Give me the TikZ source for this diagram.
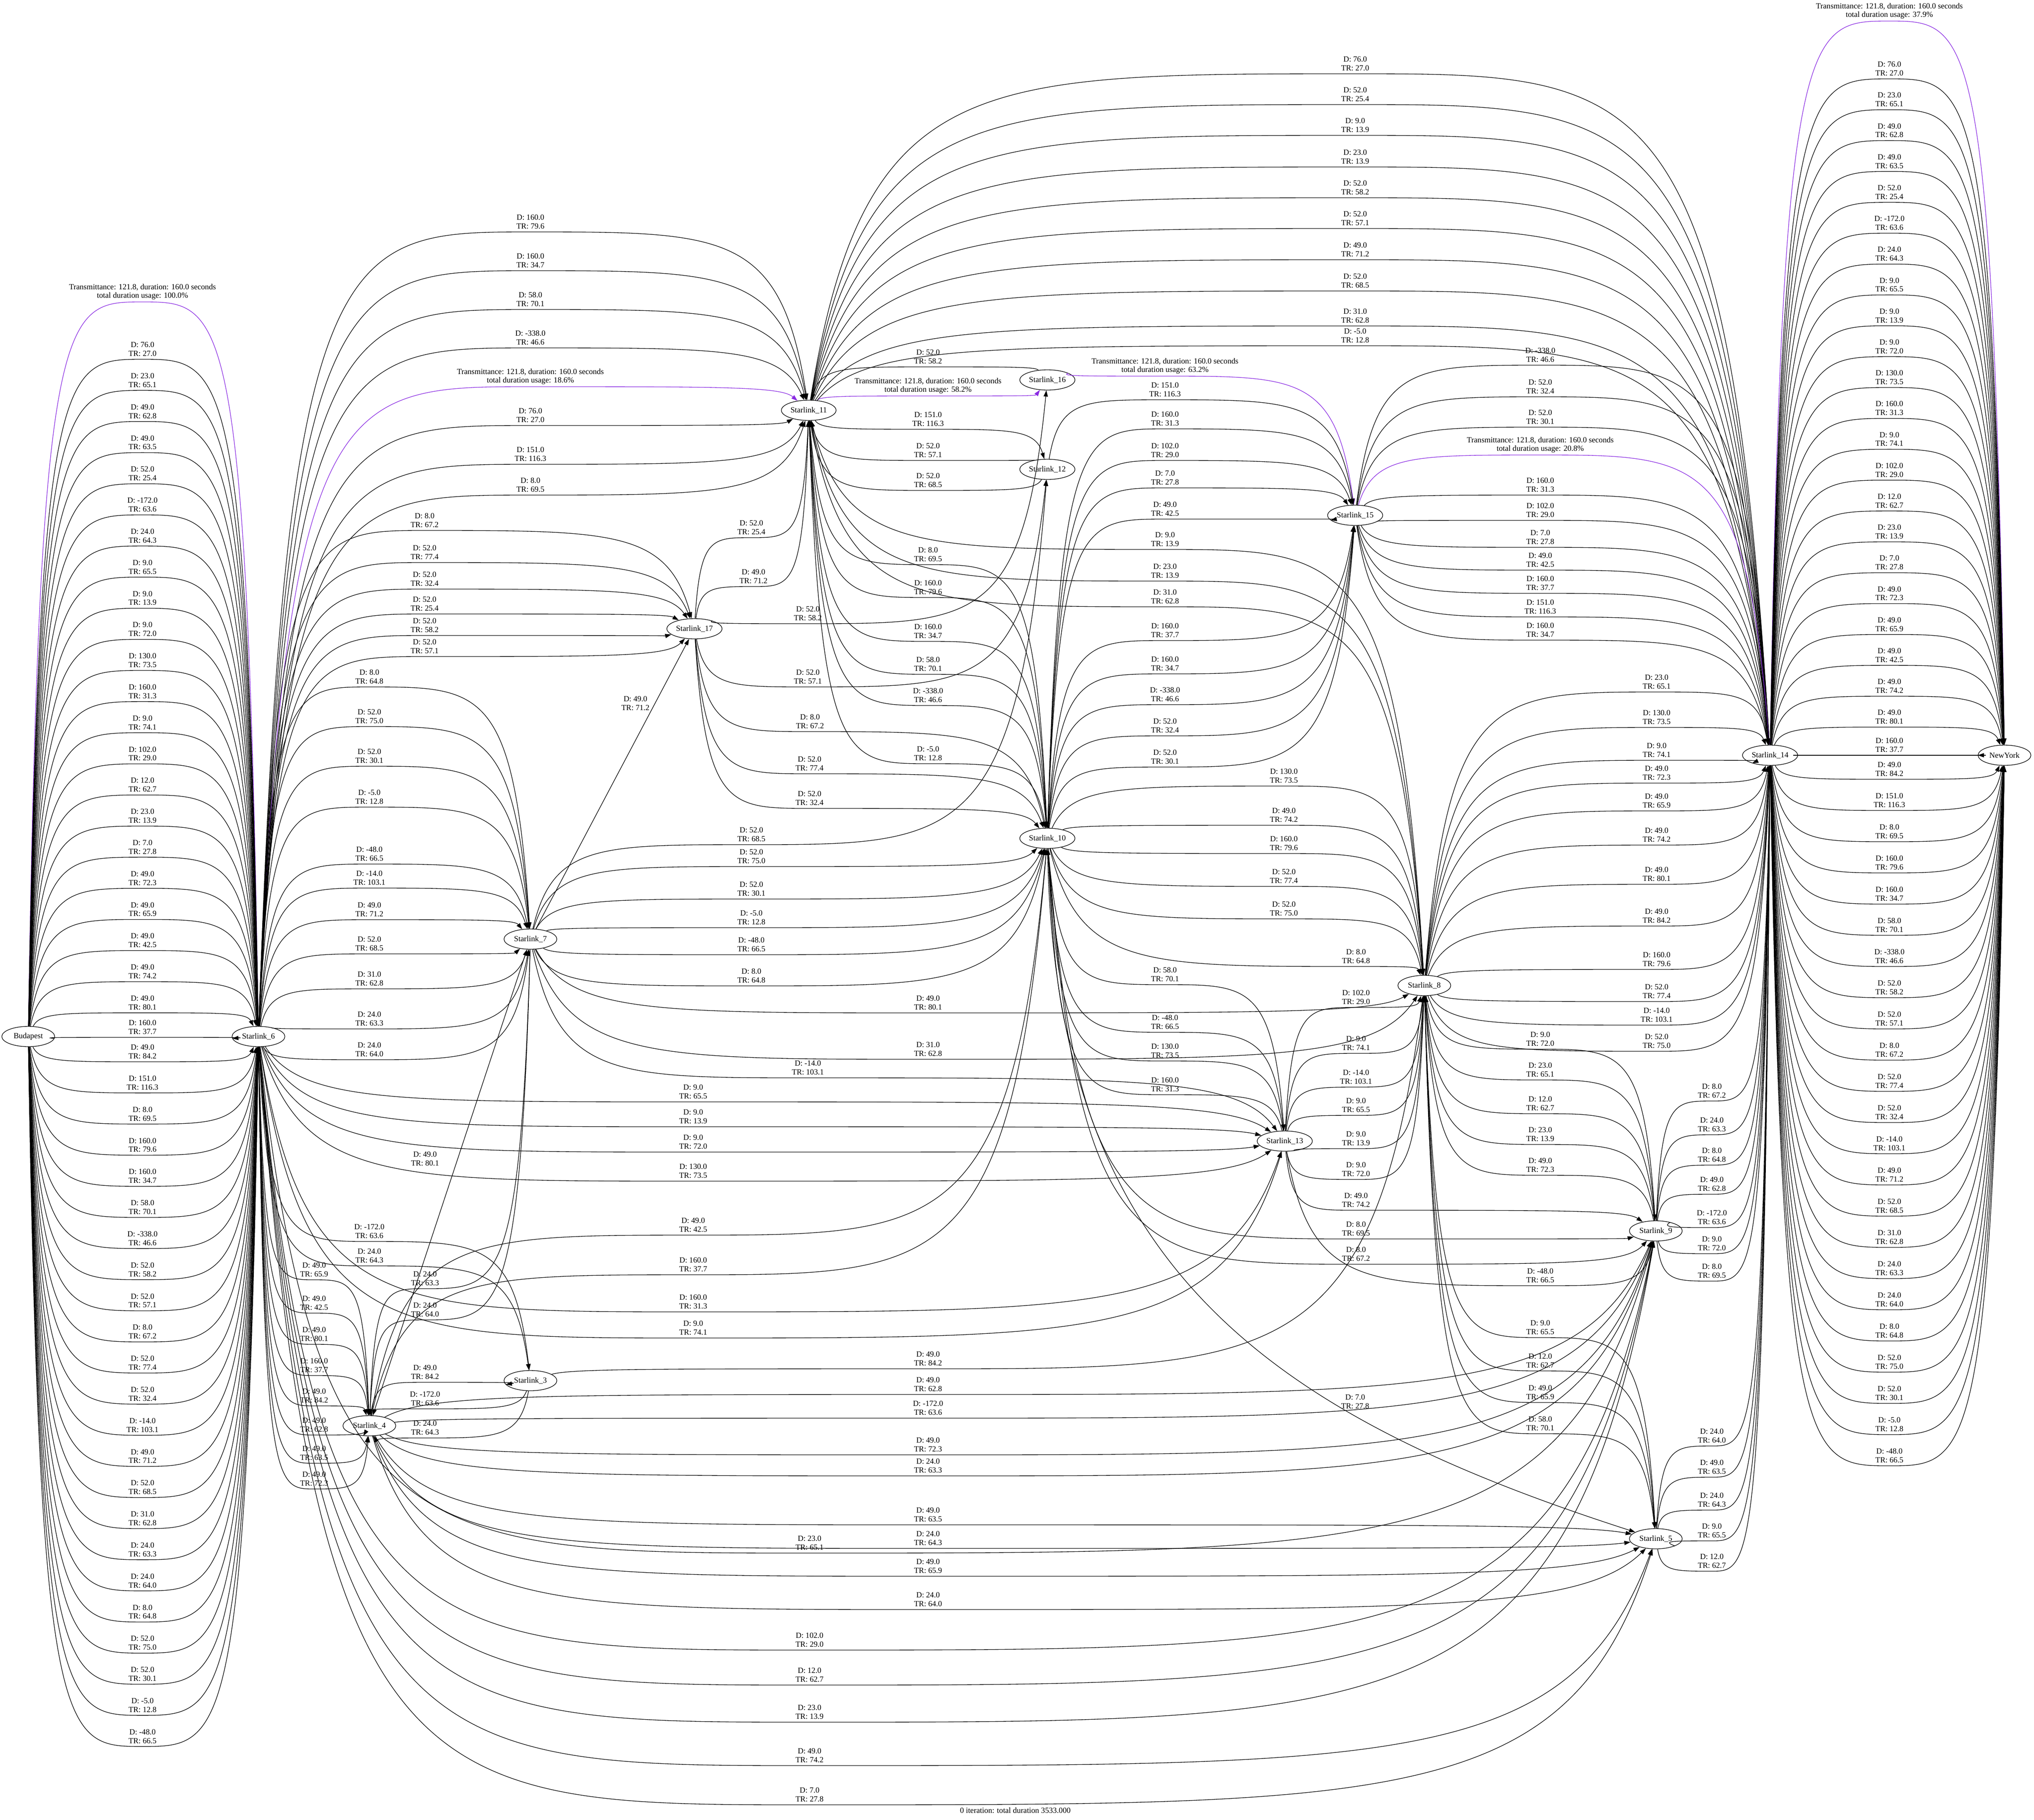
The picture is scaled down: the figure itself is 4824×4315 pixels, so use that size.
\documentclass[tikz,border=0pt]{standalone}
\usepackage{fontspec}
\setmainfont{Liberation Serif}
\usetikzlibrary{shapes.geometric,arrows.meta,calc}

\definecolor{bestviolet}{RGB}{138,43,226}

\tikzset{
  sat/.style={ellipse, draw, line width=1pt, minimum height=36pt, minimum width=94pt,
    inner xsep=2pt, font=\fontsize{14}{15.5}\selectfont},
  lbl/.style={align=center, inner sep=0pt, font=\fontsize{14}{15.5}\selectfont},
  link/.style={line width=1pt, -{Triangle[length=11pt,width=7.5pt]}},
  best/.style={draw=bestviolet, fill=none, -{Triangle[length=11pt,width=7.5pt,fill=bestviolet]}, color=bestviolet}
}

% src, dst, label x, label y, D, TR
\newcommand\satlink[7][]{%
  \draw[link,#1] let \p1=(#2), \p2=(#4,#5), \p3=(#3) in
    (#2) .. controls ({\x1+0.1*(\x2-\x1)},{\y2-18pt}) and ({\x1+0.3*(\x2-\x1)},{\y2-18pt})
    .. (\x2,{\y2-18pt})
    .. controls ({\x3-0.3*(\x3-\x2)},{\y2-18pt}) and ({\x3-0.1*(\x3-\x2)},{\y2-18pt}) .. (#3);
  \node[lbl] at (#4,#5) {D: #6\\TR: #7};}
\newcommand\bestlink[5]{%
  \draw[link,best] let \p1=(#1), \p2=(#3,#4), \p3=(#2) in
    (#1) .. controls ({\x1+0.1*(\x2-\x1)},{\y2-18pt}) and ({\x1+0.3*(\x2-\x1)},{\y2-18pt})
    .. (\x2,{\y2-18pt})
    .. controls ({\x3-0.3*(\x3-\x2)},{\y2-18pt}) and ({\x3-0.1*(\x3-\x2)},{\y2-18pt}) .. (#2);
  \node[lbl] at (#3,#4) {Transmittance: 121.8, duration: 160.0 seconds\\total duration usage: #5\%};}

\newcommand\slotlist{76.0/27.0,23.0/65.1,49.0/62.8,49.0/63.5,52.0/25.4,-172.0/63.6,24.0/64.3,9.0/65.5,9.0/13.9,9.0/72.0,130.0/73.5,160.0/31.3,9.0/74.1,102.0/29.0,12.0/62.7,23.0/13.9,7.0/27.8,49.0/72.3,49.0/65.9,49.0/42.5,49.0/74.2,49.0/80.1,160.0/37.7,49.0/84.2,151.0/116.3,8.0/69.5,160.0/79.6,160.0/34.7,58.0/70.1,-338.0/46.6,52.0/58.2,52.0/57.1,8.0/67.2,52.0/77.4,52.0/32.4,-14.0/103.1,49.0/71.2,52.0/68.5,31.0/62.8,24.0/63.3,24.0/64.0,8.0/64.8,52.0/75.0,52.0/30.1,-5.0/12.8,-48.0/66.5}

\begin{document}
\begin{tikzpicture}[x=0.75pt,y=-0.75pt]
\useasboundingbox (0,0) rectangle (4824,4315);

\node[sat] (bud) at (67,2458) {Budapest};
\node[sat] (s6) at (613,2458) {Starlink\_6};
\node[sat] (s11) at (1918,973) {Starlink\_11};
\node[sat] (s16) at (2484,901) {Starlink\_16};
\node[sat] (s12) at (2484,1113) {Starlink\_12};
\node[sat] (s17) at (1647,1491) {Starlink\_17};
\node[sat] (s15) at (3214,1222) {Starlink\_15};
\node[sat] (s10) at (2484,1988) {Starlink\_10};
\node[sat] (s7) at (1258,2227) {Starlink\_7};
\node[sat] (s8) at (3378,2337) {Starlink\_8};
\node[sat] (s13) at (3047,2706) {Starlink\_13};
\node[sat] (s14) at (4198,1791) {Starlink\_14};
\node[sat] (ny) at (4754,1791) {NewYork};
\node[sat] (s9) at (3927,2919) {Starlink\_9};
\node[sat] (s3) at (1258,3274) {Starlink\_3};
\node[sat] (s4) at (876,3381) {Starlink\_4};
\node[sat] (s5) at (3927,3649) {Starlink\_5};

\bestlink{bud}{s6}{338}{692}{100.0}
\foreach \dv/\tv [count=\i] in \slotlist {
  \pgfmathsetmacro\ly{\i<23 ? 828+73.8*(\i-1) : (\i==23 ? 2436 : 2494+73.8*(\i-24))}
  \satlink{bud}{s6}{338}{\ly}{\dv}{\tv}
}
\bestlink{s14}{ny}{4481}{26}{37.9}
\foreach \dv/\tv [count=\i] in \slotlist {
  \pgfmathsetmacro\ly{\i<23 ? 163+73.2*(\i-1) : (\i==23 ? 1767 : 1824+74*(\i-24))}
  \satlink{s14}{ny}{4481}{\ly}{\dv}{\tv}
}

\satlink{s6}{s11}{1258}{526}{160.0}{79.6}
\satlink{s6}{s11}{1258}{618}{160.0}{34.7}
\satlink{s6}{s11}{1258}{710}{58.0}{70.1}
\satlink{s6}{s11}{1258}{801}{-338.0}{46.6}
\bestlink{s6}{s11}{1258}{893}{18.6}
\satlink{s6}{s11}{1258}{985}{76.0}{27.0}
\satlink{s6}{s11}{1258}{1077}{151.0}{116.3}
\satlink{s6}{s11}{1258}{1150}{8.0}{69.5}
\satlink{s6}{s17}{1007}{1234}{8.0}{67.2}
\satlink{s6}{s17}{1007}{1310}{52.0}{77.4}
\satlink{s6}{s17}{1007}{1373}{52.0}{32.4}
\satlink{s6}{s17}{1007}{1432}{52.0}{25.4}
\satlink{s6}{s17}{1007}{1483}{52.0}{58.2}
\satlink{s6}{s17}{1007}{1533}{52.0}{57.1}
\satlink{s6}{s7}{876}{1605}{8.0}{64.8}
\satlink{s6}{s7}{876}{1699}{52.0}{75.0}
\satlink{s6}{s7}{876}{1793}{52.0}{30.1}
\satlink{s6}{s7}{876}{1890}{-5.0}{12.8}
\satlink{s6}{s7}{876}{2025}{-48.0}{66.5}
\satlink{s6}{s7}{876}{2082}{-14.0}{103.1}
\satlink{s6}{s7}{876}{2157}{49.0}{71.2}
\satlink{s6}{s7}{876}{2238}{52.0}{68.5}
\satlink{s6}{s7}{876}{2321}{31.0}{62.8}
\satlink{s6}{s7}{876}{2416}{24.0}{63.3}
\satlink{s6}{s7}{876}{2489}{24.0}{64.0}
\satlink{s6}{s13}{1644}{2589}{9.0}{65.5}
\satlink{s6}{s13}{1644}{2648}{9.0}{13.9}
\satlink{s6}{s13}{1644}{2708}{9.0}{72.0}
\satlink{s6}{s13}{1644}{2777}{130.0}{73.5}
\satlink{s6}{s13}{1644}{3087}{160.0}{31.3}
\satlink{s6}{s13}{1644}{3149}{9.0}{74.1}
\satlink{s6}{s3}{876}{2920}{-172.0}{63.6}
\satlink{s6}{s3}{876}{2978}{24.0}{64.3}
\satlink{s6}{s4}{745}{3011}{49.0}{65.9}
\satlink{s6}{s4}{745}{3090}{49.0}{42.5}
\satlink{s6}{s4}{745}{3164}{49.0}{80.1}
\satlink{s6}{s4}{745}{3238}{160.0}{37.7}
\satlink{s6}{s4}{745}{3310}{49.0}{84.2}
\satlink{s6}{s4}{745}{3379}{49.0}{62.8}
\satlink{s6}{s4}{745}{3446}{49.0}{63.5}
\satlink{s6}{s4}{745}{3507}{49.0}{72.3}
\satlink{s6}{s9}{1920}{3659}{23.0}{65.1}
\satlink{s6}{s9}{1920}{3889}{102.0}{29.0}
\satlink{s6}{s9}{1920}{3972}{12.0}{62.7}
\satlink{s6}{s9}{1920}{4060}{23.0}{13.9}
\satlink{s6}{s5}{1920}{4163}{49.0}{74.2}
\satlink{s6}{s5}{1920}{4256}{7.0}{27.8}

\draw[link] (s7) -- (s17);
\node[lbl] at (1507,1668) {D: 49.0\\TR: 71.2};
\draw[link] (s4) -- (s7);
\node[lbl] at (1008,2748) {D: 49.0\\TR: 80.1};
\satlink{s17}{s11}{1782}{1251}{52.0}{25.4}
\satlink{s17}{s11}{1787}{1367}{49.0}{71.2}
\satlink{s17}{s16}{1916}{1455}{52.0}{58.2}
\satlink{s17}{s12}{1916}{1605}{52.0}{57.1}
\satlink{s17}{s10}{1921}{1711}{8.0}{67.2}
\satlink{s17}{s10}{1920}{1811}{52.0}{77.4}
\satlink{s17}{s10}{1920}{1893}{52.0}{32.4}
\satlink{s7}{s12}{1782}{1979}{52.0}{68.5}
\satlink{s7}{s10}{1782}{2031}{52.0}{75.0}
\satlink{s7}{s10}{1782}{2108}{52.0}{30.1}
\satlink{s7}{s10}{1782}{2176}{-5.0}{12.8}
\satlink{s7}{s10}{1782}{2240}{-48.0}{66.5}
\satlink{s7}{s10}{1782}{2314}{8.0}{64.8}
\satlink{s7}{s13}{1916}{2532}{-14.0}{103.1}
\satlink{s7}{s8}{2201}{2378}{49.0}{80.1}
\satlink{s7}{s8}{2201}{2488}{31.0}{62.8}
\satlink{s4}{s10}{1644}{2905}{49.0}{42.5}
\satlink{s4}{s10}{1644}{2999}{160.0}{37.7}
\satlink{s7}{s4}{1008}{3032}{24.0}{63.3}
\satlink{s7}{s4}{1008}{3106}{24.0}{64.0}
\satlink{s4}{s3}{1008}{3254}{49.0}{84.2}
\satlink{s3}{s4}{1008}{3317}{-172.0}{63.6}
\satlink{s3}{s4}{1008}{3386}{24.0}{64.3}
\satlink{s3}{s8}{2201}{3222}{49.0}{84.2}
\satlink{s4}{s9}{2201}{3283}{49.0}{62.8}
\satlink{s4}{s9}{2201}{3339}{-172.0}{63.6}
\satlink{s4}{s9}{2201}{3426}{49.0}{72.3}
\satlink{s4}{s9}{2201}{3476}{24.0}{63.3}
\satlink{s4}{s5}{2201}{3592}{49.0}{63.5}
\satlink{s4}{s5}{2201}{3648}{24.0}{64.3}
\satlink{s4}{s5}{2201}{3714}{49.0}{65.9}
\satlink{s4}{s5}{2201}{3793}{24.0}{64.0}

\satlink{s16}{s11}{2201}{846}{52.0}{58.2}
\bestlink{s11}{s16}{2201}{915}{58.2}
\satlink{s11}{s12}{2201}{994}{151.0}{116.3}
\satlink{s12}{s11}{2201}{1068}{52.0}{57.1}
\satlink{s12}{s11}{2201}{1139}{52.0}{68.5}
\satlink{s11}{s10}{2201}{1315}{8.0}{69.5}
\satlink{s11}{s10}{2201}{1393}{160.0}{79.6}
\satlink{s11}{s10}{2201}{1497}{160.0}{34.7}
\satlink{s11}{s10}{2201}{1575}{58.0}{70.1}
\satlink{s11}{s10}{2201}{1649}{-338.0}{46.6}
\satlink{s10}{s11}{2201}{1787}{-5.0}{12.8}
\bestlink{s16}{s15}{2763}{868}{63.2}
\satlink{s12}{s15}{2763}{924}{151.0}{116.3}
\satlink{s10}{s15}{2763}{993}{160.0}{31.3}
\satlink{s10}{s15}{2763}{1068}{102.0}{29.0}
\satlink{s10}{s15}{2763}{1133}{7.0}{27.8}
\satlink{s10}{s15}{2763}{1207}{49.0}{42.5}
\satlink{s8}{s11}{2763}{1279}{9.0}{13.9}
\satlink{s8}{s11}{2763}{1354}{23.0}{13.9}
\satlink{s8}{s11}{2763}{1415}{31.0}{62.8}
\satlink{s10}{s15}{2763}{1495}{160.0}{37.7}
\satlink{s10}{s15}{2763}{1574}{160.0}{34.7}
\satlink{s10}{s15}{2763}{1647}{-338.0}{46.6}
\satlink{s10}{s15}{2763}{1721}{52.0}{32.4}
\satlink{s10}{s15}{2763}{1795}{52.0}{30.1}
\satlink{s10}{s8}{3045}{1840}{130.0}{73.5}
\satlink{s10}{s8}{3045}{1933}{49.0}{74.2}
\satlink{s10}{s8}{3045}{2000}{160.0}{79.6}
\satlink{s10}{s8}{3045}{2078}{52.0}{77.4}
\satlink{s10}{s8}{3045}{2155}{52.0}{75.0}
\satlink{s10}{s8}{3216}{2268}{8.0}{64.8}
\satlink{s10}{s13}{2763}{2311}{58.0}{70.1}
\satlink{s10}{s13}{2763}{2424}{-48.0}{66.5}
\satlink{s13}{s10}{2763}{2492}{130.0}{73.5}
\satlink{s13}{s10}{2763}{2572}{160.0}{31.3}
\satlink{s13}{s8}{3216}{2365}{102.0}{29.0}
\satlink{s13}{s8}{3216}{2474}{9.0}{74.1}
\satlink{s13}{s8}{3216}{2554}{-14.0}{103.1}
\satlink{s13}{s8}{3216}{2621}{9.0}{65.5}
\satlink{s13}{s8}{3216}{2700}{9.0}{13.9}
\satlink{s13}{s8}{3216}{2773}{9.0}{72.0}
\satlink{s13}{s9}{3216}{2846}{49.0}{74.2}
\satlink{s10}{s9}{3216}{2914}{8.0}{69.5}
\satlink{s10}{s9}{3216}{2974}{8.0}{67.2}
\satlink{s13}{s9}{3653}{3025}{-48.0}{66.5}
\draw[link] (s10) .. controls (2500,3000) and (3000,3350) .. (s5);
\node[lbl] at (3214,3324) {D: 7.0\\TR: 27.8};

\satlink{s8}{s9}{3653}{2464}{9.0}{72.0}
\satlink{s9}{s8}{3653}{2537}{23.0}{65.1}
\satlink{s9}{s8}{3653}{2617}{12.0}{62.7}
\satlink{s9}{s8}{3653}{2690}{23.0}{13.9}
\satlink{s9}{s8}{3653}{2763}{49.0}{72.3}
\satlink{s8}{s5}{3653}{3148}{9.0}{65.5}
\satlink{s8}{s5}{3653}{3227}{12.0}{62.7}
\satlink{s5}{s8}{3653}{3302}{49.0}{65.9}
\satlink{s8}{s5}{3653}{3376}{58.0}{70.1}

\satlink{s11}{s14}{3214}{151}{76.0}{27.0}
\satlink{s11}{s14}{3214}{224}{52.0}{25.4}
\satlink{s11}{s14}{3214}{297}{9.0}{13.9}
\satlink{s11}{s14}{3214}{372}{23.0}{13.9}
\satlink{s11}{s14}{3214}{445}{52.0}{58.2}
\satlink{s11}{s14}{3214}{518}{52.0}{57.1}
\satlink{s11}{s14}{3214}{592}{49.0}{71.2}
\satlink{s11}{s14}{3214}{666}{52.0}{68.5}
\satlink{s11}{s14}{3214}{749}{31.0}{62.8}
\satlink{s11}{s14}{3214}{796}{-5.0}{12.8}
\satlink{s15}{s14}{3653}{842}{-338.0}{46.6}
\satlink{s15}{s14}{3653}{917}{52.0}{32.4}
\satlink{s15}{s14}{3653}{989}{52.0}{30.1}
\bestlink{s15}{s14}{3653}{1055}{20.8}
\satlink{s15}{s14}{3653}{1150}{160.0}{31.3}
\satlink{s15}{s14}{3653}{1210}{102.0}{29.0}
\satlink{s15}{s14}{3653}{1274}{7.0}{27.8}
\satlink{s15}{s14}{3653}{1328}{49.0}{42.5}
\satlink{s15}{s14}{3653}{1383}{160.0}{37.7}
\satlink{s15}{s14}{3653}{1439}{151.0}{116.3}
\satlink{s15}{s14}{3653}{1494}{160.0}{34.7}
\satlink{s8}{s14}{3929}{1617}{23.0}{65.1}
\satlink{s8}{s14}{3929}{1701}{130.0}{73.5}
\satlink{s8}{s14}{3929}{1779}{9.0}{74.1}
\satlink{s8}{s14}{3929}{1833}{49.0}{72.3}
\satlink{s8}{s14}{3929}{1899}{49.0}{65.9}
\satlink{s8}{s14}{3929}{1980}{49.0}{74.2}
\satlink{s8}{s14}{3929}{2073}{49.0}{80.1}
\satlink{s8}{s14}{3929}{2172}{49.0}{84.2}
\satlink{s8}{s14}{3929}{2275}{160.0}{79.6}
\satlink{s8}{s14}{3929}{2351}{52.0}{77.4}
\satlink{s8}{s14}{3929}{2407}{-14.0}{103.1}
\satlink{s8}{s14}{3929}{2469}{52.0}{75.0}
\satlink{s9}{s14}{4060}{2587}{8.0}{67.2}
\satlink{s9}{s14}{4060}{2667}{24.0}{63.3}
\satlink{s9}{s14}{4060}{2739}{8.0}{64.8}
\satlink{s9}{s14}{4060}{2808}{49.0}{62.8}
\satlink{s9}{s14}{4060}{2887}{-172.0}{63.6}
\satlink{s9}{s14}{4060}{2949}{9.0}{72.0}
\satlink{s9}{s14}{4060}{3014}{8.0}{69.5}
\satlink{s5}{s14}{4060}{3405}{24.0}{64.0}
\satlink{s5}{s14}{4060}{3479}{49.0}{63.5}
\satlink{s5}{s14}{4060}{3557}{24.0}{64.3}
\satlink{s5}{s14}{4060}{3630}{9.0}{65.5}
\satlink{s5}{s14}{4060}{3702}{12.0}{62.7}

\node[lbl] at (2408,4293) {0 iteration: total duration 3533.000};
\end{tikzpicture}
\end{document}
